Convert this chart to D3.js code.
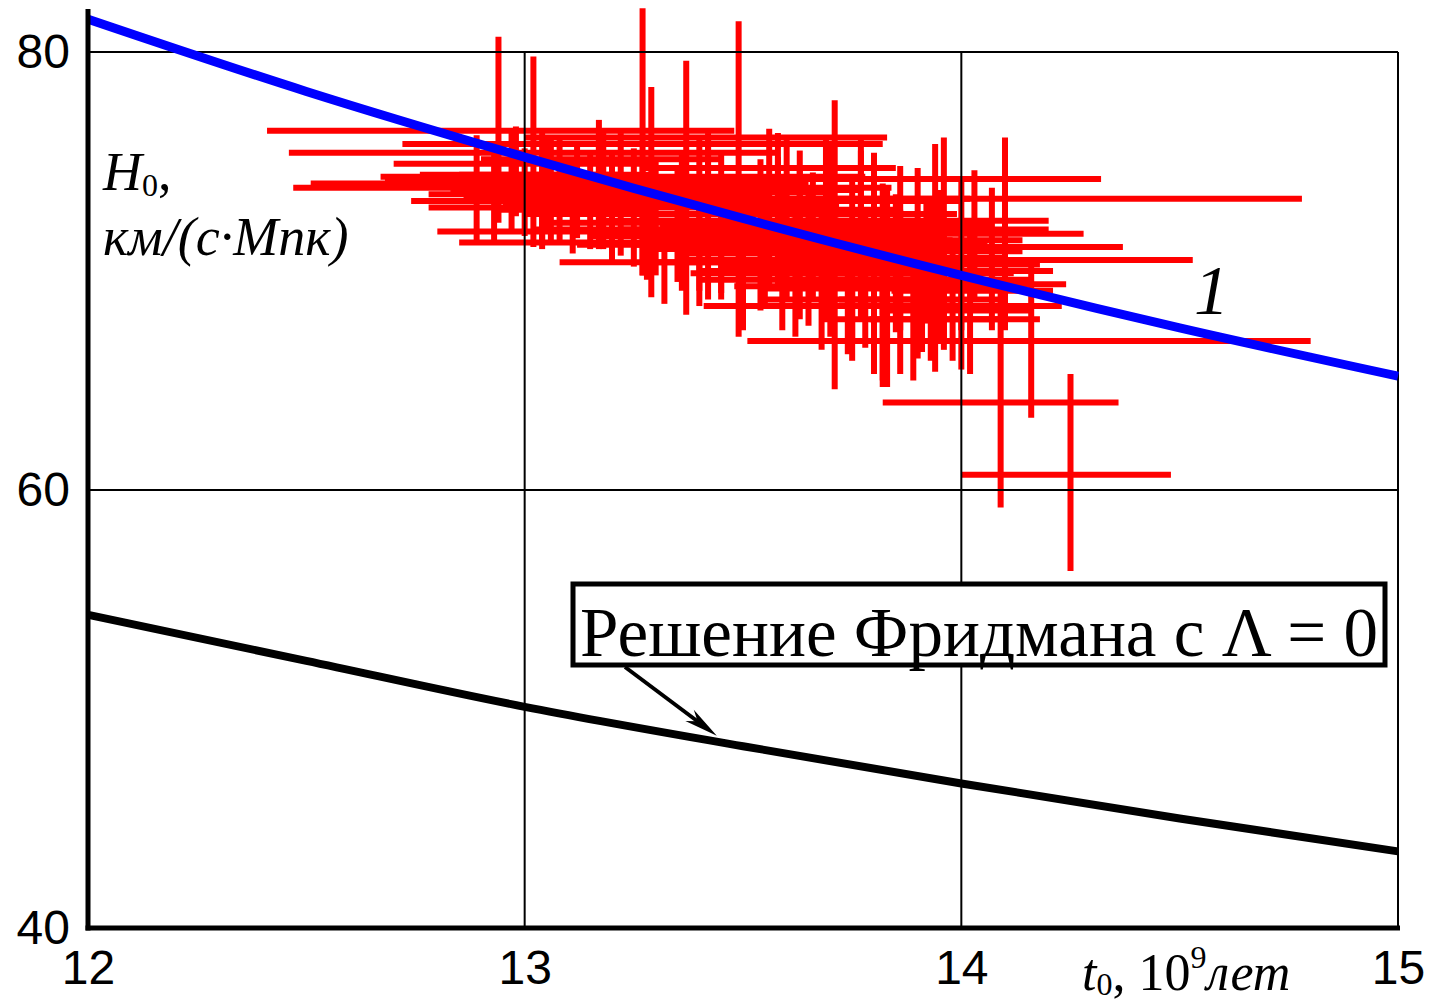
<!DOCTYPE html>
<html>
<head>
<meta charset="utf-8">
<script src="https://cdn.jsdelivr.net/npm/d3@7"></script>
<style>
  body { margin: 0; background: #fff; }
  svg { display: block; }
</style>
</head>
<body>
<svg id="chart" width="1432" height="1002"></svg>
<script>
// axis ticks
var xTicks = [12, 13, 14, 15];
var yTicks = [40, 60, 80];

// measurements: centre (t0, H0) and error bar ends
var t0  = [12.94,13.27,13.02,13.22,13.08,13.04,13.17,13.20,13.27,13.49,13.37,13.29,13.71,13.80,13.96,14.10,13.90,13.94,14.07,14.00,13.93,14.16,14.09,14.25,13.82,13.56,13.58,13.60,13.69,13.06,13.18,13.42,12.89,12.93,13.11,13.32,13.82,13.86,13.91,14.02,13.83,13.75,13.63,13.54,13.45,13.40,13.77,13.86,13.95,13.68,13.59,13.75,13.89,13.98,13.63,13.77,13.50,13.36,13.04,12.97,13.17,14.03,14.00,
           13.05,13.12,13.00,13.15,13.25,13.30,13.35,13.45,13.55,13.65,13.70,13.78,13.85,13.90,13.74,13.62,13.50,13.40,13.28,13.82,13.92,13.66,13.96,13.58,13.70,12.98,13.42];
var h0  = [76.4,75.8,75.4,74.3,74.0,73.8,72.9,71.8,71.3,74.2,73.8,73.6,71.1,70.0,74.2,73.3,72.3,71.7,71.1,70.5,69.4,66.8,64.0,60.7,68.4,74.7,73.2,72.6,72.1,74.4,74.2,73.7,73.7,73.2,72.8,70.4,69.2,69.5,68.7,69.1,69.6,71.0,71.4,71.9,72.3,73.0,71.9,71.4,70.3,69.6,70.5,68.7,67.8,68.2,72.8,73.2,71.0,72.6,73.2,74.4,75.1,71.9,67.8,
           74.2,73.9,73.5,73.4,73.0,72.6,72.2,71.6,71.2,70.8,70.2,69.9,70.6,69.9,69.3,69.9,70.4,71.2,71.9,71.2,70.9,71.6,69.6,72.3,73.3,74.9,76.1];
var tLo = [12.41,12.72,12.46,12.67,12.51,12.47,12.78,12.80,12.85,12.94,12.90,12.88,13.27,13.40,13.61,13.43,13.61,13.61,13.78,13.47,13.62,13.51,13.82,14.00,13.41,13.27,13.17,13.22,13.31,12.85,12.99,13.08,12.83,12.74,12.94,13.08,13.55,13.58,13.72,13.84,13.59,13.40,13.29,13.22,13.17,13.08,13.50,13.59,13.72,13.40,13.36,13.54,13.68,13.82,13.40,13.59,13.27,13.08,12.78,12.76,12.90,13.86,13.79,
           12.68,12.75,12.78,12.86,12.95,13.00,13.05,13.15,13.25,13.35,13.45,13.50,13.60,13.65,13.48,13.38,13.28,13.12,13.02,13.55,13.70,13.42,13.76,13.30,13.45,12.70,13.00];
var tHi = [13.48,13.82,13.58,13.78,13.65,13.60,13.56,13.59,13.68,14.04,13.84,13.71,14.16,14.21,14.32,14.78,14.20,14.28,14.37,14.53,14.24,14.80,14.36,14.48,14.23,13.85,14.00,13.99,14.07,13.29,13.38,13.77,12.96,13.12,13.29,13.56,14.09,14.15,14.09,14.21,14.08,14.09,13.98,13.86,13.72,13.72,14.05,14.14,14.18,13.95,13.82,13.98,14.09,14.16,13.86,14.00,13.77,13.63,13.29,13.22,13.45,14.20,14.18,
           13.45,13.50,13.40,13.55,13.62,13.70,13.75,13.80,13.88,13.95,14.00,14.05,14.10,14.12,14.02,13.92,13.85,13.78,13.66,14.06,14.14,13.96,14.16,13.90,14.02,13.30,13.83];
var hLo = [72.2,69.8,71.1,70.7,71.4,71.2,71.0,70.5,69.8,67.0,68.0,68.8,64.6,65.3,66.8,67.3,68.7,65.4,67.3,67.3,65.9,63.3,59.2,56.3,64.7,69.1,69.1,68.7,67.8,71.4,71.0,68.7,71.4,71.4,70.8,68.5,65.0,65.3,66.3,65.3,64.7,66.8,67.8,68.2,68.7,69.1,67.8,67.3,66.8,66.4,67.3,65.9,65.0,65.9,70.0,70.0,67.3,69.1,71.0,71.9,72.3,68.7,65.5,
           72.0,71.5,71.6,71.0,70.2,69.8,69.5,69.0,68.5,67.5,67.0,66.5,67.2,66.0,66.2,67.0,68.0,68.4,69.6,68.0,67.6,68.8,66.4,69.6,70.5,72.5,73.5];
var hHi = [80.7,82.0,79.8,76.3,76.2,76.4,76.3,75.5,75.0,81.4,79.6,78.4,77.8,75.4,76.1,76.1,74.7,75.8,73.8,74.2,73.2,70.4,69.1,65.3,71.9,76.5,76.3,76.1,76.2,76.2,76.3,76.2,76.2,75.5,75.0,72.3,72.3,72.8,71.4,71.9,73.7,74.2,74.6,75.1,75.5,76.0,75.5,74.8,73.7,73.2,73.7,71.4,70.5,71.0,75.5,76.0,73.7,75.5,75.5,76.4,76.9,74.6,70.0,
           76.0,75.8,75.6,75.4,75.6,75.2,74.8,74.4,74.0,73.6,73.2,72.8,73.5,72.4,72.0,72.6,73.0,73.8,74.3,74.0,73.2,74.5,72.2,75.2,75.8,76.6,76.3];

// curves
var tCurve    = [12, 12.5, 13, 13.5, 14, 14.5, 15];
var hubbleFit = [81.5, 78.2, 75.2, 72.4, 69.8, 67.4, 65.2];
var friedmann = [54.3, 52.2, 50.1, 48.3, 46.6, 45.0, 43.5];

var svg = d3.select("#chart");
var chart = { left: 88, right: 1398, top: 52, bottom: 928 };

var x = d3.scaleLinear().domain([12, 15]).range([chart.left, chart.right]);
var y = d3.scaleLinear().domain([40, 80]).range([chart.bottom, chart.top]);

// red error crosses
var crosses = svg.append("g").attr("stroke", "#ff0000").attr("stroke-width", 6);
crosses.selectAll(".hbar")
  .data(t0).enter().append("line")
    .attr("x1", function(d, i) { return x(tLo[i]); })
    .attr("x2", function(d, i) { return x(tHi[i]); })
    .attr("y1", function(d, i) { return y(h0[i]); })
    .attr("y2", function(d, i) { return y(h0[i]); });
crosses.selectAll(".vbar")
  .data(t0).enter().append("line")
    .attr("x1", function(d) { return x(d); })
    .attr("x2", function(d) { return x(d); })
    .attr("y1", function(d, i) { return y(hLo[i]); })
    .attr("y2", function(d, i) { return y(hHi[i]); });

// grid + frame
var grid = svg.append("g").attr("stroke", "#000").attr("stroke-width", 2);
xTicks.slice(1).forEach(function(t) {
  grid.append("line").attr("x1", x(t)).attr("x2", x(t)).attr("y1", y(80)).attr("y2", y(40));
});
yTicks.slice(1).forEach(function(h) {
  grid.append("line").attr("x1", x(12)).attr("x2", x(15)).attr("y1", y(h)).attr("y2", y(h));
});

// lines
var line = d3.line()
  .x(function(d, i) { return x(tCurve[i]); })
  .y(function(d) { return y(d); })
  .curve(d3.curveMonotoneX);

svg.append("path").datum(friedmann)
  .attr("d", line).attr("fill", "none").attr("stroke", "#000").attr("stroke-width", 8);
svg.append("path").datum(hubbleFit)
  .attr("d", line).attr("fill", "none").attr("stroke", "#0000ff").attr("stroke-width", 9);

// thick axes
svg.append("line").attr("x1", x(12)).attr("x2", x(12)).attr("y1", 9).attr("y2", y(40) + 2.5)
  .attr("stroke", "#000").attr("stroke-width", 5);
svg.append("line").attr("x1", x(12) - 2.5).attr("x2", x(15) + 2).attr("y1", y(40)).attr("y2", y(40))
  .attr("stroke", "#000").attr("stroke-width", 5);

// tick labels
var xAxis = svg.append("g").attr("transform", "translate(0," + chart.bottom + ")")
  .call(d3.axisBottom(x).tickValues(xTicks).tickSize(0).tickPadding(22).tickFormat(d3.format("d")));
var yAxis = svg.append("g").attr("transform", "translate(" + chart.left + ",0)")
  .call(d3.axisLeft(y).tickValues(yTicks).tickSize(0).tickPadding(18).tickFormat(d3.format("d")));
[xAxis, yAxis].forEach(function(a) {
  a.select(".domain").remove();
  a.selectAll("text").attr("font-family", "'Liberation Sans', Arial, sans-serif")
    .attr("font-size", 48).attr("fill", "#000");
});

// axis titles
var serif = "'Liberation Serif', 'Times New Roman', serif";
var yt = svg.append("text").attr("font-family", serif).attr("font-size", 54).attr("x", 103).attr("y", 190);
yt.append("tspan").attr("font-style", "italic").text("H");
yt.append("tspan").attr("font-size", 32).attr("dy", 6).text("0");
yt.append("tspan").attr("dy", -6).text(",");
svg.append("text").attr("font-family", serif).attr("font-size", 54).attr("font-style", "italic")
  .attr("x", 103).attr("y", 255).text("км/(с·Мпк)");

var xt = svg.append("text").attr("font-family", serif).attr("font-size", 52).attr("x", 1082).attr("y", 990);
xt.append("tspan").attr("font-style", "italic").text("t");
xt.append("tspan").attr("font-size", 32).attr("dy", 5).text("0");
xt.append("tspan").attr("dy", -5).text(", 10");
xt.append("tspan").attr("font-size", 32).attr("dy", -22).text("9");
xt.append("tspan").attr("font-style", "italic").attr("dy", 22).text("лет");

// curve label
svg.append("text").attr("font-family", serif).attr("font-size", 70).attr("font-style", "italic")
  .attr("x", 1194).attr("y", 314).text("1");

// annotation box + arrow
svg.append("rect").attr("x", 573).attr("y", 584).attr("width", 812).attr("height", 81)
  .attr("fill", "#fff").attr("stroke", "#000").attr("stroke-width", 5);
svg.append("text").attr("font-family", serif).attr("font-size", 70)
  .attr("x", 580).attr("y", 656).attr("textLength", 798).attr("lengthAdjust", "spacingAndGlyphs")
  .text("Решение Фридмана с Λ = 0");

var tipX = x(13.44), tipY = y(48.55) - 5;
var startX = 625, startY = 667;
var ang = Math.atan2(tipY - startY, tipX - startX);
svg.append("line").attr("x1", startX).attr("y1", startY).attr("x2", tipX - 20 * Math.cos(ang)).attr("y2", tipY - 20 * Math.sin(ang))
  .attr("stroke", "#000").attr("stroke-width", 4);
var hl = 34, hw = 7;
var bx = tipX - hl * Math.cos(ang), by = tipY - hl * Math.sin(ang);
svg.append("path")
  .attr("d", "M" + tipX + "," + tipY +
    "L" + (bx + hw * Math.sin(ang)) + "," + (by - hw * Math.cos(ang)) +
    "L" + (tipX - 24 * Math.cos(ang)) + "," + (tipY - 24 * Math.sin(ang)) +
    "L" + (bx - hw * Math.sin(ang)) + "," + (by + hw * Math.cos(ang)) + "Z")
  .attr("fill", "#000");
</script>
</body>
</html>
